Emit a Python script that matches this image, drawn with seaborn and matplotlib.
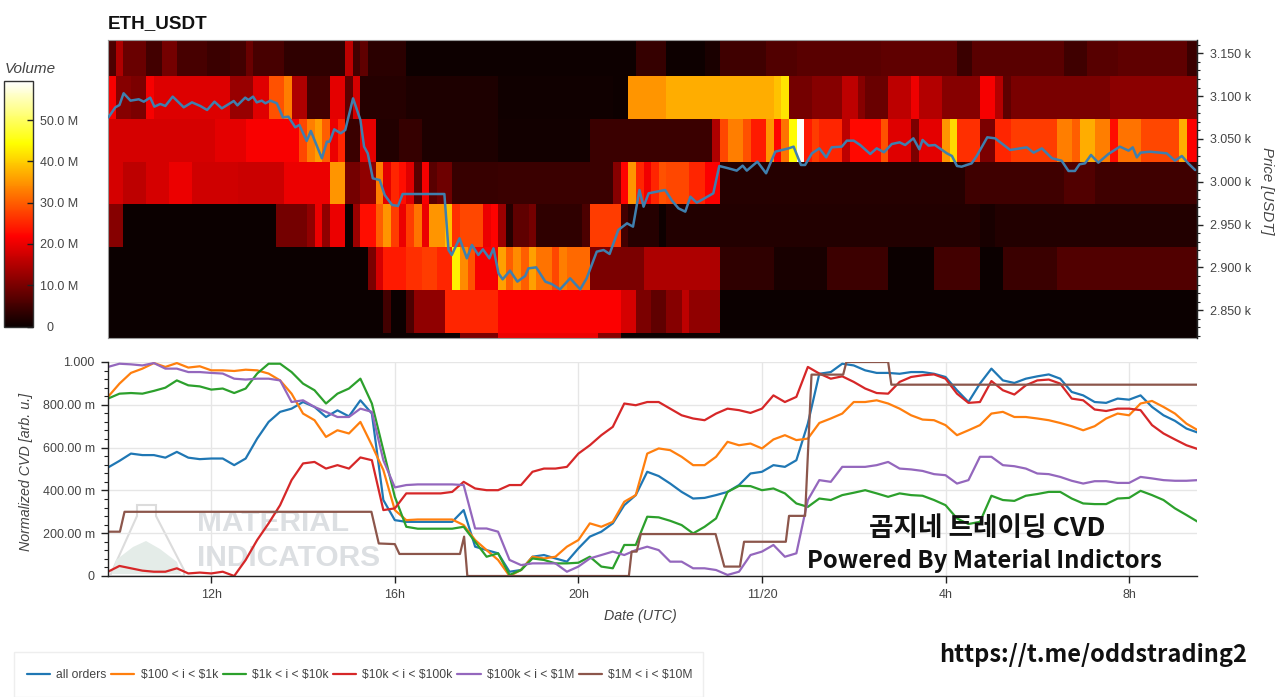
import numpy as np
import pandas as pd
import seaborn as sns
import matplotlib
matplotlib.use("Agg")
import matplotlib.pyplot as plt
from matplotlib.patches import Polygon, Rectangle
from matplotlib.ticker import MultipleLocator, FixedLocator, FuncFormatter
import logging
logging.getLogger("matplotlib.font_manager").setLevel(logging.ERROR)

# ---------- heatmap: (last 10-minute column of run, volume in M) per price band
BAND_3123_3173 = [(1,6),(2,14.5),(5,8.5),(7,5),(9,9.4),(13,5.5),(16,4.2),(18,5),(19,8.5),(23,5.5),(31,3.4),(32,16),(33,5),(34,7.6),(39,3),(69,0.3),(73,3.8),(78,0.3),(80,1.5),(86,4.7),(90,6.4),(101,7.2),(111,7.6),(113,4.2),(125,7.2),(128,4.7),(132,6.8),(141,7.6),(143,4.2)]
BAND_3073_3123 = [(1,21),(3,11),(5,10),(6,21),(16,18.7),(19,12.7),(21,19),(23,29),(24,33),(26,14.5),(29,5),(31,19.5),(32,7.6),(33,18),(39,2.5),(51,1.7),(66,0.5),(68,0.3),(73,35),(87,37),(88,39),(89,42),(92,9.4),(96,11),(98,16),(99,11),(102,8.5),(105,16),(106,20.4),(109,15),(114,11),(116,21),(117,15),(118,7.6),(131,9.8),(143,11.5)]
BAND_3023_3073 = [(14,17.9),(18,19.5),(25,21.2),(26,28),(27,33),(28,35.6),(29,30),(30,20),(31,25),(33,4.2),(35,19.5),(38,2.1),(41,3.8),(51,1.7),(63,0.8),(79,4.2),(80,14.5),(81,28),(83,33),(84,29),(86,24),(87,35),(88,22),(89,32),(90,44),(91,59),(92,24),(93,27),(96,25),(97,16),(101,22.5),(102,29),(105,19),(106,10),(109,19.5),(110,35),(111,41),(114,26),(116,10),(118,25),(124,27),(126,33),(127,30),(129,37),(131,33),(132,23),(135,32),(140,28),(141,37),(143,21.5)]
BAND_2973_3023 = [(2,18),(5,16),(8,18),(11,20),(17,17.5),(23,17),(29,20),(31,35),(33,9.4),(35,12),(36,33),(37,19.5),(38,25),(39,23),(40,19),(41,7),(42,21),(43,7),(45,9),(51,4),(66,4.2),(67,11),(68,22),(69,35),(70,25),(71,20.5),(72,25),(73,29),(76,28),(78,25),(80,21.5),(112,2.5),(125,4.7),(129,6.4),(143,4.7)]
BAND_2923_2973 = [(2,11),(22,0.1),(26,9.4),(27,12),(28,20),(29,12),(31,20),(32,0.2),(33,13),(35,23),(36,30),(37,35),(38,27),(39,20),(40,27),(41,32),(42,20),(44,35),(45,39),(46,26),(49,28),(50,20),(51,22),(52,13),(53,2.5),(55,7.6),(56,9.4),(62,3.4),(63,6),(67,27),(68,5),(72,2.5),(73,0.4),(114,2.1),(116,1.3),(143,2.1)]
BAND_2873_2923 = [(34,0.1),(35,10),(36,18),(39,24),(41,26),(43,27),(45,25),(46,43),(47,34),(48,29),(51,21),(52,36),(53,30),(54,34),(55,30),(56,36),(58,32),(59,28),(60,33),(63,31),(70,10),(80,14.5),(87,3.4),(94,1.3),(102,4.6),(108,0.2),(114,5),(117,0.2),(124,4.2),(143,6.4)]
BAND_2823_2873 = [(36,0.1),(37,5),(39,0.2),(40,6),(44,12),(51,25),(67,21.5),(69,18),(71,10),(73,7.6),(75,11),(76,16),(80,12),(143,0.2)]
BAND_2773_2823 = [(46,0.1),(51,10),(64,20),(67,11),(143,0.2)]
BANDS = [BAND_3123_3173, BAND_3073_3123, BAND_3023_3073, BAND_2973_3023,
         BAND_2923_2973, BAND_2873_2923, BAND_2823_2873, BAND_2773_2823]
BAND_LABELS = [3148, 3098, 3048, 2998, 2948, 2898, 2848, 2798]

# ---------- price line
PRICE_H = [9.76,9.91,10.0,10.09,10.24,10.42,10.53,10.67,10.76,10.89,11.0,11.16,11.4,11.58,11.76,11.91,12.07,12.23,12.49,12.57,12.74,12.81,12.91,12.99,13.1,13.18,13.29,13.43,13.56,13.68,13.83,13.92,14.08,14.17,14.41,14.52,14.58,14.68,14.82,14.92,15.09,15.25,15.33,15.41,15.52,15.67,15.78,15.94,16.07,16.17,17.08,17.17,17.24,17.41,17.57,17.68,17.82,17.92,18.06,18.15,
           18.26,18.35,18.51,18.67,18.84,18.91,19.08,19.28,19.42,19.6,19.82,20.04,20.18,20.4,20.55,20.68,20.87,21.06,21.19,21.33,21.42,21.53,21.71,21.89,22.04,22.18,22.33,22.44,22.58,22.94,23.07,23.27,23.45,23.58,23.67,23.9,24.09,24.29,24.58,24.69,24.85,24.94,25.09,25.25,25.4,25.52,25.74,25.85,26.0,26.14,
           26.36,26.5,26.66,26.83,27.0,27.12,27.3,27.43,27.5,27.63,27.77,28.03,28.14,28.25,28.35,28.57,28.68,28.91,29.08,29.41,29.77,29.92,30.1,30.32,30.53,30.68,30.82,30.92,31.04,31.17,31.33,31.55,31.8,31.99,32.08,32.17,32.25,32.46,32.82,33.0,33.15,33.29,33.44]
PRICE = [3075.2,3086.9,3089.6,3103.3,3094.7,3096.3,3093.5,3098.2,3087.7,3090.8,3088.5,3099.4,3086.9,3092.7,3088.5,3083.8,3093.5,3085.7,3094.3,3089.2,3098.2,3095.5,3099.4,3092.7,3094.7,3091.6,3094.7,3091.6,3075.2,3076,3063.6,3066.3,3047.6,3059.3,3027.4,3046.8,3046.8,3061.2,3056.6,3060.4,3097.4,3072.1,3041,3033.2,3004,3002,2984.5,2972.9,2971.7,2985.7,2985.7,2920.3,2914.5,2934,2910.6,2926.2,2914.5,2921.1,2910.6,2922.3,
         2893,2886.1,2896.2,2883.4,2890,2898.9,2900.1,2883.4,2880.6,2874.4,2887.3,2874.4,2887.3,2918.4,2920.3,2915.7,2943.7,2951.5,2947.6,2990.4,2970.9,2986.5,2988.4,2990.4,2978,2969,2965.1,2982.6,2975.6,2986.5,3018.4,3015.7,3013,3018.8,3013,3023.5,3009.9,3035.1,3039,3041,3019.6,3019.6,3033.2,3039,3028.5,3040.2,3041,3048,3048,3042.9,
         3032.4,3039,3034.4,3044.1,3046,3042.9,3050.7,3037.9,3048.8,3042.2,3042.9,3033.2,3030.1,3018.4,3017.6,3021.5,3030.1,3051.9,3050.7,3037.1,3040.2,3034,3039,3027.4,3024.6,3012.6,3012.6,3020.4,3021.5,3031.3,3022.3,3032.4,3041,3036.3,3040.2,3028.5,3034,3035.1,3033.2,3024.6,3030.1,3021.5,3013.7]

# ---------- normalized CVD (in milli-units), one reading per quarter hour from 9.75 h
CVD_ALL = [507,538,572,565,565,553,580,553,546,549,549,518,549,642,720,767,782,813,790,743,774,746,821,759,355,261,253,253,
           253,253,253,
           308,137,121,106,20,28,90,98,82,67,129,184,207,246,331,378,487,467,432,393,362,365,378,393,425,479,487,518,510,541,
           712,945,953,992,984,961,949,949,945,953,953,945,930,868,813,899,969,914,902,922,933,942,922,860,844,813,809,829,824,844,790,751,725,689,670]
CVD_100_1K = [837,899,949,969,995,977,995,974,980,961,961,958,964,961,946,914,852,759,728,650,681,666,720,611,495,308,261,264,
              264,264,264,
              238,168,121,75,0,28,90,82,90,137,168,246,230,253,347,378,572,596,588,557,518,518,557,627,611,619,596,638,658,635,
              642,715,736,759,813,813,821,806,782,751,731,728,705,658,681,705,759,767,743,743,736,728,715,700,681,700,736,759,751,806,818,790,759,712,681]
CVD_1K_10K = [829,852,855,852,865,880,914,891,886,871,876,855,876,946,992,992,953,899,868,806,852,876,922,806,588,370,230,221,
              221,221,221,
              230,160,90,106,5,28,82,75,59,59,62,90,44,36,145,145,277,274,258,238,199,230,269,393,421,420,401,409,386,339,
              323,362,355,378,389,401,386,370,386,378,375,355,331,269,243,253,375,355,351,375,383,393,393,362,339,336,336,362,365,398,378,355,316,285,253]
CVD_10K_100K = [20,47,36,25,20,20,36,12,16,12,20,0,75,168,246,331,448,526,533,502,518,502,554,541,308,316,386,386,
                386,386,393,
                440,409,401,401,425,425,487,502,502,510,572,611,658,697,806,798,813,813,782,751,736,728,759,782,775,762,782,844,813,837,
                977,946,922,933,907,876,855,852,907,930,938,942,922,852,809,813,911,868,848,891,914,918,899,829,821,778,771,782,782,775,705,666,638,611,593]
CVD_100K_1M = [977,992,989,984,995,969,969,953,953,949,946,922,918,922,922,914,813,821,790,767,743,743,782,767,541,414,425,428,
               428,428,428,
               425,222,222,207,75,51,59,59,59,20,44,82,98,114,98,121,137,121,67,67,36,36,28,5,20,98,114,145,90,106,
               355,448,440,510,510,510,518,533,502,498,491,476,471,432,448,557,557,518,513,502,479,476,463,445,432,443,443,435,435,463,456,448,445,445,448]
# the largest bucket moves in steps, so it has its own times
CVD_1M_10M_H = [9.75,10.01,10.11,15.49,15.65,16.0,16.1,17.42,17.51,17.58,21.1,21.16,21.27,21.36,22.99,23.18,23.52,23.61,24.52,24.59,24.94,25.08,25.77,25.84,26.75,26.82,33.5]
CVD_1M_10M = [207,207,300,300,152,149,103,103,184,0,0,114,114,196,196,44,44,160,160,281,281,941,941,1000,1000,894,894]

SERIES_LABELS = ["all orders", r"\$100 < i < \$1k", r"\$1k < i < \$10k",
                 r"\$10k < i < \$100k", r"\$100k < i < \$1M", r"\$1M < i < \$10M"]
Y_TICK_LABELS = ["0", "200.00 m", "400.00 m", "600.00 m", "800.00 m", "1.000"]
X_TICK_HOURS = [12, 16, 20, 24, 28, 32]
X_TICK_LABELS = ["12h", "16h", "20h", "11/20", "4h", "8h"]
VOLUME_TICKS = [0, 10, 20, 30, 40, 50]
PRICE_TICKS = [2850, 2900, 2950, 3000, 3050, 3100, 3150]

sns.set_theme(style="white")
plt.rcParams["font.family"] = ["Liberation Sans", "DejaVu Sans"]
GRAY = "#444444"
W, H = 1280, 697
fig = plt.figure(figsize=(W / 100, H / 100), dpi=100, facecolor="white")

def box(x0, y0, x1, y1):
    return [x0 / W, 1 - y1 / H, (x1 - x0) / W, (y1 - y0) / H]

# ---------- heatmap
def expand(runs):
    ends = np.array([r[0] for r in runs])
    vals = np.array([r[1] for r in runs], float)
    return np.repeat(vals, np.diff(np.concatenate([[0], ends])))

matrix = pd.DataFrame(np.vstack([expand(b) for b in BANDS]), index=BAND_LABELS)

ax_h = fig.add_axes(box(108, 40, 1197, 338))
cax = fig.add_axes(box(4, 81, 33, 326.5))
sns.heatmap(matrix, ax=ax_h, cmap="hot", vmin=0, vmax=59.5, cbar_ax=cax,
            xticklabels=False, yticklabels=False,
            cbar_kws=dict(ticks=VOLUME_TICKS))
ax_h.set_xlim(0, 142.35)
ax_h.set_ylim(7.118, 0.16)
ax_h.set_xlabel(""); ax_h.set_ylabel("")
for s in ax_h.spines.values():
    s.set_visible(True); s.set_color("#999999"); s.set_linewidth(0.8)

cb = ax_h.collections[0].colorbar
cb.set_ticks(VOLUME_TICKS)
cb.set_ticklabels(["  0"] + [f"{v:.1f} M" for v in VOLUME_TICKS[1:]])
cax.set_axisbelow(False)
cax.tick_params(axis="y", direction="in", length=4.3, width=1, color="#222222",
                labelsize=9, labelcolor=GRAY, pad=5, right=True, left=False)
cb.outline.set_visible(True); cb.outline.set_edgecolor("#333333"); cb.outline.set_linewidth(1)
fig.text(5 / W, 1 - 69 / H, "Volume", style="italic", fontsize=11, color=GRAY, va="center", ha="left")

# ---------- price overlay
ax_p = fig.add_axes(box(108, 40, 1197, 338), facecolor="none")
sns.lineplot(x=PRICE_H, y=PRICE, ax=ax_p, color="#3f7fae", linewidth=1.8,
             estimator=None, errorbar=None, sort=False)
ax_p.set_xlim(9.75, 33.48)
ax_p.set_ylim(2817.6, 3165.5)
ax_p.set_xticks([])
ax_p.yaxis.tick_right()
ax_p.yaxis.set_major_locator(FixedLocator(PRICE_TICKS))
ax_p.yaxis.set_minor_locator(MultipleLocator(10))
ax_p.yaxis.set_major_formatter(FuncFormatter(lambda v, _: f"{v / 1000:.3f} k"))
ax_p.tick_params(axis="y", which="major", length=4.3, width=1, color="#222222", labelsize=9,
                 labelcolor=GRAY, pad=5, right=True, left=False, direction="out")
ax_p.tick_params(axis="y", which="minor", length=2.4, width=0.8, color="#222222", right=True, left=False, direction="out")
for k, s in ax_p.spines.items():
    s.set_visible(k == "right")
ax_p.spines["right"].set_color("#222222"); ax_p.spines["right"].set_linewidth(1)
ax_p.set_ylabel("")
fig.text(1267 / W, 1 - 191 / H, "Price [USDT]", rotation=-90, style="italic", fontsize=10.8,
         color=GRAY, ha="center", va="center")
fig.text(108 / W, 1 - 24 / H, "ETH_USDT", fontweight="bold", fontsize=13.6, color="#111111", ha="left", va="center")

# ---------- CVD panel
ax_c = fig.add_axes(box(108, 362, 1197, 576), facecolor="white")
ax_c.grid(True, axis="both", color="#e6e6e6", linewidth=1)
ax_c.set_axisbelow(True)

# watermark behind lines
flask = Polygon([[137/W,1-505/H],[156/W,1-505/H],[156/W,1-516/H],[184/W,1-570/H],[184/W,1-576/H],[110/W,1-576/H],[137/W,1-516/H]],
                closed=True, transform=fig.transFigure, facecolor="none", edgecolor="#dcdcdc", linewidth=1.5, zorder=0.5)
water = Polygon([[116/W,1-560/H],[133/W,1-547/H],[146/W,1-541/H],[160/W,1-549/H],[177/W,1-562/H],[181/W,1-574/H],[112/W,1-574/H]],
                closed=True, transform=fig.transFigure, facecolor="#e4ece8", edgecolor="none", zorder=0.5)
ax_c.add_patch(flask); ax_c.add_patch(water)
wm = dict(family=["Liberation Sans", "DejaVu Sans"], fontweight="bold", fontsize=21.5, color="#dcdfe2",
          ha="left", va="center", transform=fig.transFigure, zorder=0.6)
ax_c.text(197 / W, 1 - 523 / H, "MATERIAL", **wm)
ax_c.text(197 / W, 1 - 558 / H, "INDICATORS", **wm)

grid_h = 9.75 + 0.25 * np.arange(len(CVD_ALL))
palette = sns.color_palette("tab10", 6)
table = pd.DataFrame({"hour": grid_h, "all": CVD_ALL, "a": CVD_100_1K, "b": CVD_1K_10K,
                      "c": CVD_10K_100K, "d": CVD_100K_1M})
for col, color, label in zip(["all", "a", "b", "c", "d"], palette[:5], SERIES_LABELS[:5]):
    sns.lineplot(data=table, x="hour", y=col, ax=ax_c, color=color, linewidth=1.6, label=label,
                 estimator=None, errorbar=None, legend=False)
sns.lineplot(x=CVD_1M_10M_H, y=CVD_1M_10M, ax=ax_c, color=palette[5], linewidth=1.6, label=SERIES_LABELS[5],
             estimator=None, errorbar=None, sort=False, legend=False)

ax_c.set_xlim(9.75, 33.48)
ax_c.set_ylim(0, 1000)
ax_c.set_yticks(np.arange(0, 1001, 200))
ax_c.set_yticklabels(Y_TICK_LABELS)
ax_c.yaxis.set_minor_locator(MultipleLocator(40))
ax_c.set_xticks(X_TICK_HOURS)
ax_c.set_xticklabels(X_TICK_LABELS)
ax_c.tick_params(axis="both", which="major", length=5.2, width=1, color="#222222", labelsize=9,
                 labelcolor=GRAY, left=True, bottom=True, pad=4.3, direction="out")
ax_c.tick_params(axis="y", which="minor", length=3, width=0.8, color="#222222", left=True, direction="out")
for k, s in ax_c.spines.items():
    s.set_visible(k in ("left", "bottom"))
    s.set_color("#222222"); s.set_linewidth(1)
ax_c.set_xlabel(""); ax_c.set_ylabel("")
fig.text(26 / W, 1 - 472 / H, "Normalized CVD [arb. u.]", rotation=90, style="italic", fontsize=10.3,
         color=GRAY, ha="center", va="center")
fig.text(640 / W, 1 - 616 / H, "Date (UTC)", style="italic", fontsize=10.3, color=GRAY, ha="center", va="center")

# overlay captions
cjk = ["Noto Sans CJK KR", "DejaVu Sans"]
fig.text(987 / W, 1 - 528 / H, "곰지네 트레이딩 CVD", family=cjk, fontweight="bold", fontsize=19.2, color="#111111", ha="center", va="center", zorder=10)
fig.text(984 / W, 1 - 561 / H, "Powered By Material Indictors", family=cjk, fontweight="bold", fontsize=17.2, color="#111111", ha="center", va="center", zorder=10)
fig.text(1093 / W, 1 - 655 / H, "https://t.me/oddstrading2", family=cjk, fontweight="bold", fontsize=17, color="#111111", ha="center", va="center", zorder=10)

# ---------- legend
handles, labels = ax_c.get_legend_handles_labels()
fig.add_artist(Rectangle((14 / W, 0), 689 / W, 45 / H, transform=fig.transFigure, facecolor="white", edgecolor="#eeeeee", linewidth=1))
leg = fig.legend(handles, labels, ncols=6, loc="center left", bbox_to_anchor=(27 / W, 1 - 675 / H),
                 frameon=False, fontsize=8.75, labelcolor=GRAY, handlelength=1.9, handletextpad=0.5,
                 columnspacing=0.4, borderpad=0, borderaxespad=0)

fig.savefig("out.png", dpi=100, facecolor="white")
